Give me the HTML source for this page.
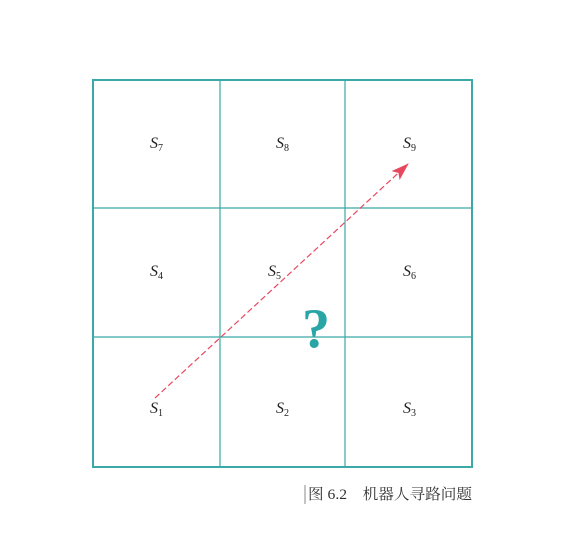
<!DOCTYPE html>
<html><head><meta charset="utf-8"><style>
html,body{margin:0;padding:0;background:#fff;}
svg{display:block;}
</style></head><body>
<svg width="562" height="552" viewBox="0 0 562 552" xmlns="http://www.w3.org/2000/svg">
<defs><marker id="ah" markerWidth="18" markerHeight="12" refX="17" refY="6" orient="auto" markerUnits="userSpaceOnUse" viewBox="0 0 18 12"><path d="M0,0 L18,6 L0,12 L4,6 Z" fill="#e8485e"/></marker></defs>
<g stroke="#3aa9a7" fill="none">
<rect x="93" y="80" width="379" height="387" stroke-width="2"/>
<line x1="220" y1="80" x2="220" y2="467" stroke-width="1.2"/>
<line x1="345" y1="80" x2="345" y2="467" stroke-width="1.2"/>
<line x1="93" y1="208" x2="472" y2="208" stroke-width="1.2"/>
<line x1="93" y1="337" x2="472" y2="337" stroke-width="1.2"/>
</g>
<g font-family="Liberation Serif, serif" font-style="italic" font-size="16" fill="#222">
<text x="150" y="148">S<tspan font-style="normal" font-size="10" dy="3">7</tspan></text>
<text x="276" y="148">S<tspan font-style="normal" font-size="10" dy="3">8</tspan></text>
<text x="403" y="148">S<tspan font-style="normal" font-size="10" dy="3">9</tspan></text>
<text x="150" y="276">S<tspan font-style="normal" font-size="10" dy="3">4</tspan></text>
<text x="268" y="276">S<tspan font-style="normal" font-size="10" dy="3">5</tspan></text>
<text x="403" y="276">S<tspan font-style="normal" font-size="10" dy="3">6</tspan></text>
<text x="150" y="413">S<tspan font-style="normal" font-size="10" dy="3">1</tspan></text>
<text x="276" y="413">S<tspan font-style="normal" font-size="10" dy="3">2</tspan></text>
<text x="403" y="413">S<tspan font-style="normal" font-size="10" dy="3">3</tspan></text>
</g>
<line x1="155" y1="398" x2="408" y2="164" stroke="#e8485e" stroke-width="1.2" stroke-dasharray="6,3" marker-end="url(#ah)"/>
<text x="316" y="347" text-anchor="middle" font-family="Liberation Serif, serif" font-weight="bold" font-size="56" fill="#2aa5a5">?</text>
<line x1="305" y1="485" x2="305" y2="504" stroke="#888" stroke-width="1"/>
<text x="308" y="499" textLength="164" lengthAdjust="spacingAndGlyphs" font-family="Liberation Serif, 'Noto Serif CJK SC', serif" font-size="15" fill="#333">图 6.2　机器人寻路问题</text>
</svg>
</body></html>
